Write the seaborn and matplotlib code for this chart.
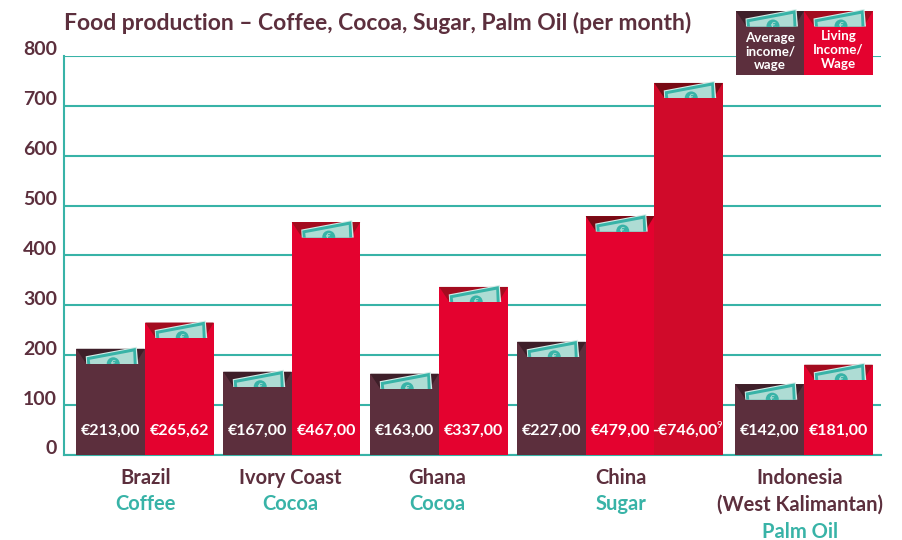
"""Monthly income vs. living income in food production, drawn as envelopes."""
import matplotlib

matplotlib.use("Agg")
import matplotlib.pyplot as plt
import pandas as pd
import seaborn as sns
from matplotlib.patches import Ellipse, Polygon, Rectangle
from matplotlib.transforms import ScaledTranslation

countries = ["Brazil", "Ivory Coast", "Ghana", "China", "Indonesia\n(West Kalimantan)"]
commodities = ["Coffee", "Cocoa", "Cocoa", "Sugar", "Palm Oil"]
y_ticks = [0, 100, 200, 300, 400, 500, 600, 700, 800]

bar_country = ["Brazil", "Brazil", "Ivory Coast", "Ivory Coast", "Ghana", "Ghana",
               "China", "China", "China", "Indonesia", "Indonesia"]
bar_kind = ["average", "living", "average", "living", "average", "living",
            "average", "living", "living high", "average", "living"]
bar_values = [213, 265.62, 167, 467, 163, 337, 227, 479, 746, 142, 181]
bar_labels = ["€213,00", "€265,62", "€167,00", "€467,00", "€163,00", "€337,00",
              "€227,00", "€479,00", "-€746,00", "€142,00", "€181,00"]

# the x axis runs in picture pixels so the uneven gaps between groups stay readable
bar_centres = [110.5, 179.5, 257.5, 326, 404.5, 473.5, 551.5, 620, 688.5, 769.5, 838.5]
label_centres = [146, 290, 437, 621, 800]

PLUM = "#5C2F3D"
RED = "#E4022F"
DARK_RED = "#D00A2A"
TEAL = "#38B3A7"
PALE = "#AEDCD4"
FLAPS = {"average": "#3E1F29", "living": "#A30C1F", "living high": "#780A14"}
Y_SCALE = 800 / 399  # value units per pixel


def px_y(py):
    return (455 - py) * Y_SCALE


def envelope(ax, x0, x1, top, flap):
    """Flap and banknote at the top of a bar; top is in data units."""
    d = Y_SCALE
    clip = Rectangle((x0, top - 15.5 * d), x1 - x0, 40 * d, transform=ax.transData)
    ax.add_patch(Polygon([(x0, top), (x1, top), (x1 - 9, top - 15 * d), (x0 + 10, top - 15 * d)],
                         closed=True, fc=flap, ec="none", zorder=4, clip_on=False))
    # the note is drawn in three nested layers, tilted up to the right
    layers = [
        ("#D3ECE7", [(10, 15.5), (9.5, 7.5), (60.5, -2), (62, 15.5)]),
        (TEAL, [(11, 15.5), (10.5, 8.5), (59.5, -0.8), (60.5, 15.5)]),
        (PALE, [(14, 15.5), (13.5, 11), (57, 2.8), (57.5, 15.5)]),
    ]
    for colour, pts in layers:
        poly = Polygon([(x0 + px, top - py * d) for px, py in pts], closed=True,
                       fc=colour, ec="none", zorder=5)
        ax.add_patch(poly)
        poly.set_clip_path(clip)
        poly.set_clip_on(True)
    coin = Ellipse((x0 + 37, top - 15 * d), 13, 13 * d, fc=TEAL, ec="none", zorder=6)
    ax.add_patch(coin)
    coin.set_clip_path(clip)
    coin.set_clip_on(True)
    glyph = ax.text(x0 + 37, top - 14.5 * d, "€", color=PALE, fontsize=6, fontweight="bold",
                    ha="center", va="center", zorder=6.5)
    glyph.set_clip_path(clip)
    glyph.set_clip_on(True)


sns.set_theme(style="white")
plt.rcParams["font.family"] = ["Lato", "DejaVu Sans"]

df = pd.DataFrame({"centre": bar_centres, "value": bar_values, "kind": bar_kind})

fig = plt.figure(figsize=(9.02, 5.4), dpi=100, facecolor="white")
ax = fig.add_axes([64 / 902, 85 / 540, 817 / 902, 399 / 540])

sns.barplot(data=df, x="centre", y="value", hue="kind", native_scale=True, dodge=False,
            width=1.0, saturation=1, legend=False, ax=ax, zorder=3, linewidth=0, edgecolor="none",
            hue_order=["average", "living", "living high"],
            palette={"average": PLUM, "living": RED, "living high": DARK_RED})

ax.set_xlim(64, 881)
ax.set_ylim(0, 800)
ax.set_xlabel("")
ax.set_ylabel("")
ax.set_yticks(y_ticks)
ax.set_yticklabels([str(v) for v in y_ticks], fontsize=14, fontweight="bold", color=PLUM, va="center")
ax.tick_params(axis="y", length=0, pad=5)
nudge = ScaledTranslation(0, 6 / 100, fig.dpi_scale_trans)
for lab in ax.get_yticklabels():
    lab.set_transform(lab.get_transform() + nudge)
ax.set_xticks([])
ax.grid(True, axis="y", color=TEAL, linewidth=1.5, zorder=1)
ax.set_axisbelow(True)
sns.despine(ax=ax, top=True, right=True)
for side in ("left", "bottom"):
    ax.spines[side].set_color(TEAL)
    ax.spines[side].set_linewidth(1.5)

bars = sorted(ax.patches, key=lambda b: b.get_x())
for bar, kind, country, label in zip(bars, bar_kind, bar_country, bar_labels):
    x0, x1 = bar.get_x(), bar.get_x() + bar.get_width()
    flap = FLAPS["living high"] if country == "China" and kind == "living" else FLAPS[kind]
    envelope(ax, x0, x1, bar.get_height(), flap)
    shift = -3.5 if kind == "living high" else 0
    ax.text((x0 + x1) / 2 + shift, px_y(431), label,
            color="white", fontsize=11.5, fontweight="bold", ha="center", va="center", zorder=7)
    if kind == "living high":
        # footnote marker on the upper living wage figure
        ax.text(x1 - 1, px_y(426), "9", color="white", fontsize=7, ha="right", va="center", zorder=7)

for cx, country, commodity in zip(label_centres, countries, commodities):
    lines = country.split("\n")
    for i, line in enumerate(lines):
        ax.text(cx, px_y(477.5 + 27 * i), line, color=PLUM, fontsize=14.5, fontweight="bold",
                ha="center", va="center", clip_on=False)
    ax.text(cx, px_y(477.5 + 27 * len(lines)), commodity, color=TEAL, fontsize=14.5, fontweight="bold",
            ha="center", va="center", clip_on=False)

# legend envelopes sit in the top right corner, over the 800 gridline
for x0, x1, colour, kind, text, ty in [
    (736, 804, PLUM, "average", "Average\nincome/\nwage", 52),
    (804, 873, RED, "living", "Living\nIncome/\nWage", 50),
]:
    ax.add_patch(Rectangle((x0, px_y(75)), x1 - x0, px_y(11) - px_y(75), fc=colour, ec="none",
                           zorder=3, clip_on=False))
    envelope(ax, x0, x1, px_y(11), FLAPS[kind])
    ax.text((x0 + x1) / 2, px_y(ty), text, color="white", fontsize=9.6, fontweight="bold",
            ha="center", va="center", linespacing=1.15, zorder=7, clip_on=False)

fig.text(64 / 902, 1 - 22.5 / 540, "Food production – Coffee, Cocoa, Sugar, Palm Oil (per month)",
         color=PLUM, fontsize=16.45, fontweight="bold", ha="left", va="center")

fig.savefig("out.png", dpi=100, facecolor="white")
plt.close(fig)
